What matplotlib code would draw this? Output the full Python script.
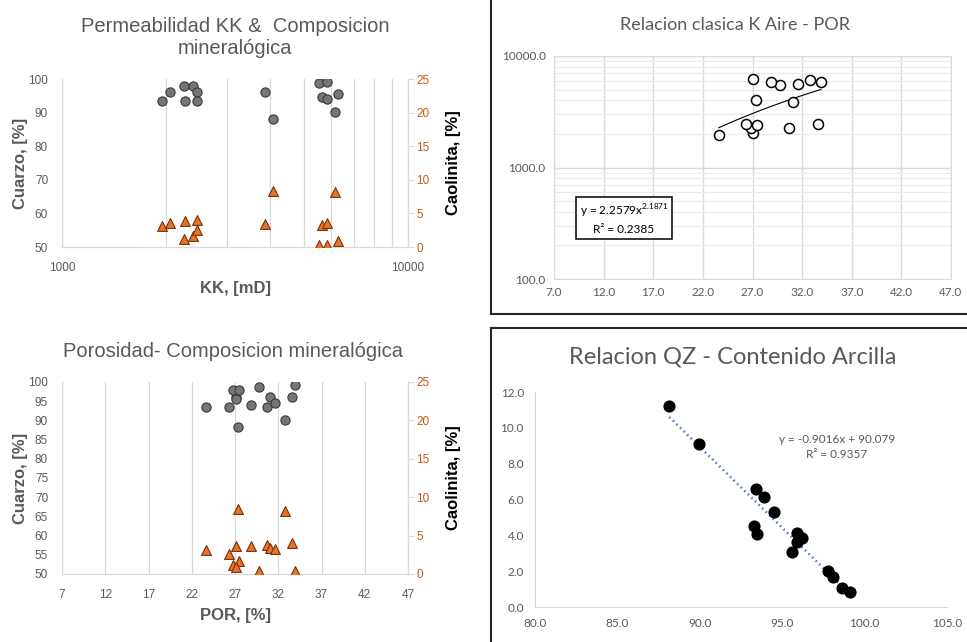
import numpy as np
import matplotlib
matplotlib.use('Agg')
import matplotlib.pyplot as plt
from matplotlib.lines import Line2D
from matplotlib.ticker import FormatStrFormatter, NullFormatter, FixedLocator

# datos de muestras (A..O)
kk = [1940, 2050, 2250, 2260, 2390, 2460, 2450, 3850, 4060, 5520, 5820, 5660, 5840, 6150, 6260]
por = [23.6, 27.1, 26.8, 30.7, 27.5, 33.6, 26.3, 31.1, 27.4, 29.8, 33.9, 31.6, 28.9, 32.8, 27.1]
cuarzo = [93.6, 96.0, 97.8, 93.4, 98.0, 96.0, 93.4, 96.1, 88.2, 98.7, 99.2, 94.5, 93.9, 90.1, 95.6]
caolinita = [3.1, 3.6, 1.2, 3.8, 1.7, 4.0, 2.6, 3.4, 8.4, 0.35, 0.35, 3.25, 3.6, 8.15, 0.9]

# QZ vs contenido de arcilla
qz = [88.15, 89.97, 93.39, 93.9, 94.5, 93.31, 93.49, 95.6, 95.88, 95.88, 96.18, 97.8, 98.1, 98.65, 99.1]
arcilla = [11.2, 9.08, 6.57, 6.12, 5.32, 4.52, 4.07, 3.09, 4.11, 3.64, 3.83, 2.01, 1.69, 1.08, 0.85]

# lineas de tendencia (Excel)
pot_a, pot_b = 2.2579, 2.1871
lin_m, lin_c = -0.9016, 90.079

W, H = 967, 642
GRAY = '#595959'
GRID = '#d9d9d9'
ORANGE = '#c55a11'
ARIAL = 'Liberation Sans'
CALIBRI = 'Lato'

fig = plt.figure(figsize=(W / 100, H / 100), dpi=100)


def rect(l, t, r, b):
    return [l / W, 1 - b / H, (r - l) / W, (b - t) / H]


def fx(x):
    return x / W


def fy(y):
    return 1 - y / H


def mineral_axes(ax):
    for s in ['left', 'right', 'bottom']:
        ax.spines[s].set_color(GRID)
    ax.spines['top'].set_visible(False)
    ax.tick_params(axis='both', length=0, labelsize=8.5, labelcolor=GRAY)
    ax.tick_params(axis='x', pad=11)
    ax.tick_params(axis='y', pad=10)
    for lab in ax.get_xticklabels() + ax.get_yticklabels():
        lab.set_family(ARIAL)
    ax.set_ylabel('Cuarzo, [%]', fontsize=12, fontweight='bold', color=GRAY, family=ARIAL, labelpad=0)
    ax2 = ax.twinx()
    ax2.set_ylim(0, 25)
    ax2.set_yticks(np.arange(0, 26, 5))
    for s in ['left', 'right', 'bottom']:
        ax2.spines[s].set_color(GRID)
    ax2.spines['top'].set_visible(False)
    ax2.tick_params(axis='y', length=4, color=GRID, labelsize=8.5, labelcolor=ORANGE, pad=2)
    for lab in ax2.get_yticklabels():
        lab.set_family(ARIAL)
    ax2.set_ylabel('Caolinita, [%]', fontsize=12, fontweight='bold', color='black', family=ARIAL,
                   labelpad=12)
    return ax2


circ = dict(marker='o', s=44, facecolor='#767676', edgecolor='#3a3a3a', linewidths=0.8, zorder=3)
tri = dict(marker='^', s=50, facecolor='#e8732a', edgecolor='#7a3208', linewidths=0.8, zorder=3)

# ---- Permeabilidad KK
ax1 = fig.add_axes(rect(62, 79, 408, 247))
ax1.set_xscale('log')
ax1.set_xlim(1000, 10000)
ax1.set_ylim(50, 100)
ax1.xaxis.set_major_locator(FixedLocator([1000, 10000]))
ax1.xaxis.set_minor_locator(FixedLocator(np.arange(2000, 10000, 1000)))
ax1.xaxis.set_major_formatter(FormatStrFormatter('%d'))
ax1.xaxis.set_minor_formatter(NullFormatter())
ax1.set_yticks(np.arange(50, 101, 10))
ax1.grid(True, which='both', axis='x', color=GRID, lw=0.9)
ax1.tick_params(which='minor', length=0)
ax1b = mineral_axes(ax1)
ax1.set_xlabel('KK, [mD]', fontsize=12, fontweight='bold', color=GRAY, family=ARIAL, labelpad=5)
ax1.scatter(kk, cuarzo, **circ)
ax1b.scatter(kk, caolinita, **tri)
fig.text(fx(235), fy(37), 'Permeabilidad KK &  Composicion\nmineralógica', ha='center', va='center',
         fontsize=14.5, color=GRAY, family=ARIAL, linespacing=1.2)

# ---- Porosidad
ax3 = fig.add_axes(rect(62, 382, 408, 574))
ax3.set_xlim(7, 47)
ax3.set_ylim(50, 100)
ax3.set_xticks(np.arange(7, 48, 5))
ax3.set_yticks(np.arange(50, 101, 5))
ax3.grid(True, axis='x', color=GRID, lw=0.9)
ax3b = mineral_axes(ax3)
ax3.set_xlabel('POR, [%]', fontsize=12, fontweight='bold', color=GRAY, family=ARIAL, labelpad=5)
ax3.scatter(por, cuarzo, **circ)
ax3b.scatter(por, caolinita, **tri)
fig.text(fx(233), fy(352), 'Porosidad- Composicion mineralógica', ha='center', va='center',
         fontsize=14.5, color=GRAY, family=ARIAL)

# ---- Relacion clasica K Aire - POR
ax2 = fig.add_axes(rect(554, 56, 951, 279))
ax2.set_yscale('log')
ax2.set_xlim(7, 47)
ax2.set_ylim(100, 10000)
ax2.set_xticks(np.arange(7, 48, 5))
ax2.xaxis.set_major_formatter(FormatStrFormatter('%.1f'))
ax2.yaxis.set_major_locator(FixedLocator([100, 1000, 10000]))
ax2.yaxis.set_major_formatter(FormatStrFormatter('%.1f'))
ax2.yaxis.set_minor_formatter(NullFormatter())
ax2.grid(True, which='major', color=GRID, lw=1.0)
ax2.grid(True, which='minor', axis='y', color='#ebebeb', lw=0.8)
for s in ax2.spines.values():
    s.set_color(GRID)
ax2.tick_params(which='both', length=0, labelsize=8.5, labelcolor=GRAY, pad=6)
for lab in ax2.get_xticklabels() + ax2.get_yticklabels():
    lab.set_family(CALIBRI)
ax2.scatter(por, kk, marker='o', s=52, facecolor='white', edgecolor='black', linewidths=1.1, zorder=3)
xs = np.linspace(min(por), max(por), 50)
ax2.plot(xs, pot_a * xs ** pot_b, color='black', lw=0.8, zorder=2)
fig.text(fx(624), fy(219), 'y = 2.2579x$^{\\mathregular{2.1871}}$\nR² = 0.2385', ha='center', va='center',
         fontsize=8.5, family=CALIBRI, color='black', linespacing=1.5,
         bbox=dict(boxstyle='square,pad=0.3', facecolor='white', edgecolor='black', lw=1.1))
fig.text(fx(735), fy(25), 'Relacion clasica K Aire - POR', ha='center', va='center',
         fontsize=13, color=GRAY, family=CALIBRI)

# ---- Relacion QZ - Contenido Arcilla
ax4 = fig.add_axes(rect(535, 392, 947, 607))
ax4.set_xlim(80, 105)
ax4.set_ylim(0, 12)
ax4.set_xticks(np.arange(80, 106, 5))
ax4.set_yticks(np.arange(0, 13, 2))
ax4.xaxis.set_major_formatter(FormatStrFormatter('%.1f'))
ax4.yaxis.set_major_formatter(FormatStrFormatter('%.1f'))
for s in ['top', 'right']:
    ax4.spines[s].set_visible(False)
for s in ['left', 'bottom']:
    ax4.spines[s].set_color(GRID)
ax4.tick_params(length=0, labelsize=8.5, labelcolor=GRAY, pad=8)
for lab in ax4.get_xticklabels() + ax4.get_yticklabels():
    lab.set_family(CALIBRI)
ax4.scatter(qz, arcilla, marker='o', s=60, color='black', zorder=3)
xl = np.linspace(min(qz), max(qz), 50)
ax4.plot(xl, lin_m * xl + lin_c, color='#4472c4', lw=1.8, ls=(0, (0.6, 1.4)), zorder=2)
fig.text(fx(837), fy(447), 'y = -0.9016x + 90.079\nR² = 0.9357', ha='center', va='center',
         fontsize=8.5, family=CALIBRI, color=GRAY, linespacing=1.5)
fig.text(fx(733), fy(357), 'Relacion QZ - Contenido Arcilla', ha='center', va='center',
         fontsize=17, color=GRAY, family=CALIBRI)

# marcos de los graficos de la derecha
for x0, y0, x1, y1 in [(491, 0, 491, 314), (491, 314, 967, 314), (491, 328, 491, 642), (491, 328, 967, 328)]:
    fig.add_artist(Line2D([fx(x0), fx(x1)], [fy(y0), fy(y1)], color='#262626', lw=1.5))

fig.savefig('out.png', dpi=100)
